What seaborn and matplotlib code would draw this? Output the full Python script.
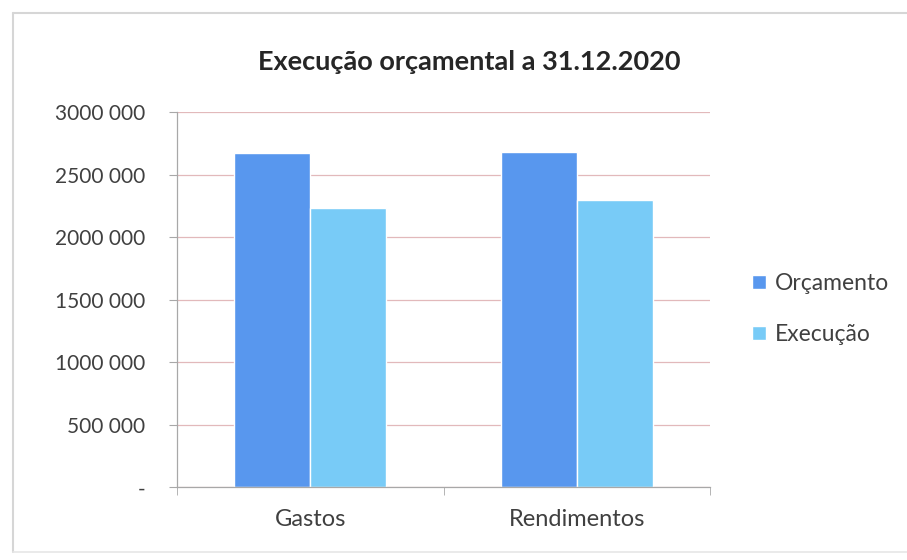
import pandas as pd
import numpy as np
import seaborn as sns
import matplotlib.pyplot as plt
from matplotlib.ticker import FuncFormatter, FixedLocator
from matplotlib.lines import Line2D

# Data
categories = ["Gastos", "Rendimentos"]
series = ["Orçamento", "Execução"]
orcamento = [2672000, 2680000]
execucao = [2232000, 2296000]
yticks = [0, 500000, 1000000, 1500000, 2000000, 2500000, 3000000]

df = pd.DataFrame({
    "categoria": categories * 2,
    "serie": [series[0]] * 2 + [series[1]] * 2,
    "valor": orcamento + execucao,
})

sns.set_style("white")
plt.rcParams['font.family'] = ['Lato', 'DejaVu Sans']
text_color = "#404040"

fig = plt.figure(figsize=(9.07, 5.6), dpi=100)
ax = fig.add_axes([0.195, 0.13, 0.588, 0.67])

palette = {"Orçamento": "#5897ee", "Execução": "#78cbf7"}
sns.barplot(data=df, x="categoria", y="valor", hue="serie", palette=palette,
            width=0.57, saturation=1, ax=ax, legend=True)

ax.set_ylim(0, 3000000)
ax.set_xlim(-0.5, 1.5)
ax.yaxis.set_major_locator(FixedLocator(yticks))


def fmt(v, pos):
    v = int(round(v))
    if v == 0:
        return "-"
    return f"{v // 1000} {v % 1000:03d}"


ax.yaxis.set_major_formatter(FuncFormatter(fmt))
ax.grid(axis="y", color="#e2b9bb", linewidth=0.9)
ax.set_axisbelow(True)
for s in ["top", "right"]:
    ax.spines[s].set_visible(False)
for s in ["left", "bottom"]:
    ax.spines[s].set_color("#a8a8a8")
    ax.spines[s].set_linewidth(0.9)

ax.tick_params(axis="y", left=True, length=6, color="#a8a8a8", labelsize=15,
               labelcolor=text_color, pad=17)
ax.tick_params(axis="x", bottom=False, labelsize=17, labelcolor=text_color, pad=12)
ax.set_xticks([-0.5, 0.5, 1.5], minor=True)
ax.tick_params(axis="x", which="minor", bottom=True, length=6, color="#a8a8a8")
ax.set_xlabel("")
ax.set_ylabel("")

ax.set_title("Execução orçamental a 31.12.2020", fontsize=19.5, fontweight="bold",
             color="#262626", pad=30, x=0.548)

leg = ax.legend(loc="center left", bbox_to_anchor=(1.04, 0.475), frameon=False,
                fontsize=16.5, handlelength=0.6, handleheight=0.6, handletextpad=0.4,
                labelspacing=1.3, labelcolor=text_color)

# chart frame
fig.add_artist(Line2D([13 / 907, 1], [1 - 13 / 560, 1 - 13 / 560], color="#d6d6d6", lw=1.5))
fig.add_artist(Line2D([13 / 907, 13 / 907], [1 - 13 / 560, 1 - 552 / 560], color="#d6d6d6", lw=1.5))
fig.add_artist(Line2D([13 / 907, 1], [1 - 552 / 560, 1 - 552 / 560], color="#e6e6e6", lw=1.2))

fig.savefig("out.png", dpi=100)
